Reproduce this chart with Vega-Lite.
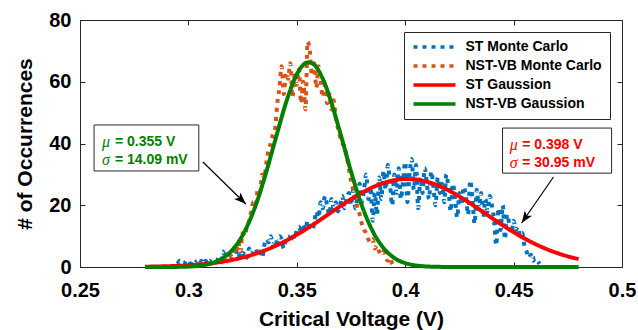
{
  "$schema": "https://vega.github.io/schema/vega-lite/v6.json",
  "width": 542,
  "height": 247,
  "autosize": {"type": "none"},
  "padding": {"left": 80, "top": 20, "right": 16, "bottom": 63},
  "background": "white",
  "config": {
    "view": {"stroke": "#262626", "strokeWidth": 1},
    "axis": {
      "domainColor": "#262626", "tickColor": "#262626", "labelColor": "#000000",
      "labelFont": "Liberation Sans", "labelFontWeight": "bold", "labelFontSize": 20,
      "titleFont": "Liberation Sans", "titleFontWeight": "bold", "titleFontSize": 21, "titleColor": "#000000",
      "grid": false, "tickSize": -5, "labelFlush": false, "labelOverlap": false
    },
    "legend": {
      "title": null, "orient": "none", "legendX": 324, "legendY": 12,
      "strokeColor": "#262626", "fillColor": "white", "padding": 8,
      "labelFont": "Liberation Sans", "labelFontWeight": "bold", "labelFontSize": 14, "labelColor": "#000000",
      "symbolType": "M-6,0H6", "symbolSize": 49, "symbolStrokeWidth": 3.5,
      "symbolOffset": 15.5, "labelOffset": 24, "rowPadding": 5
    }
  },
  "datasets": {
    "curves": [
      {"x":0.295,"y":1,"s":"ST Monte Carlo"},{"x":0.296,"y":2,"s":"ST Monte Carlo"},{"x":0.297,"y":1,"s":"ST Monte Carlo"},{"x":0.298,"y":1,"s":"ST Monte Carlo"},{"x":0.299,"y":2,"s":"ST Monte Carlo"},{"x":0.300,"y":1,"s":"ST Monte Carlo"},{"x":0.301,"y":1,"s":"ST Monte Carlo"},{"x":0.302,"y":2,"s":"ST Monte Carlo"},{"x":0.303,"y":1,"s":"ST Monte Carlo"},{"x":0.304,"y":2,"s":"ST Monte Carlo"},
      {"x":0.305,"y":1,"s":"ST Monte Carlo"},{"x":0.306,"y":2,"s":"ST Monte Carlo"},{"x":0.307,"y":1,"s":"ST Monte Carlo"},{"x":0.308,"y":2,"s":"ST Monte Carlo"},{"x":0.309,"y":1,"s":"ST Monte Carlo"},{"x":0.310,"y":2,"s":"ST Monte Carlo"},{"x":0.311,"y":1,"s":"ST Monte Carlo"},{"x":0.312,"y":2,"s":"ST Monte Carlo"},{"x":0.313,"y":2,"s":"ST Monte Carlo"},{"x":0.314,"y":3,"s":"ST Monte Carlo"},
      {"x":0.315,"y":2,"s":"ST Monte Carlo"},{"x":0.316,"y":5,"s":"ST Monte Carlo"},{"x":0.317,"y":3,"s":"ST Monte Carlo"},{"x":0.318,"y":4,"s":"ST Monte Carlo"},{"x":0.319,"y":5,"s":"ST Monte Carlo"},{"x":0.320,"y":3,"s":"ST Monte Carlo"},{"x":0.321,"y":4,"s":"ST Monte Carlo"},{"x":0.322,"y":5,"s":"ST Monte Carlo"},{"x":0.323,"y":3,"s":"ST Monte Carlo"},{"x":0.324,"y":5,"s":"ST Monte Carlo"},
      {"x":0.325,"y":4,"s":"ST Monte Carlo"},{"x":0.326,"y":5,"s":"ST Monte Carlo"},{"x":0.327,"y":3,"s":"ST Monte Carlo"},{"x":0.328,"y":6,"s":"ST Monte Carlo"},{"x":0.329,"y":4,"s":"ST Monte Carlo"},{"x":0.330,"y":5,"s":"ST Monte Carlo"},{"x":0.331,"y":6,"s":"ST Monte Carlo"},{"x":0.332,"y":4,"s":"ST Monte Carlo"},{"x":0.333,"y":5,"s":"ST Monte Carlo"},{"x":0.334,"y":3,"s":"ST Monte Carlo"},
      {"x":0.335,"y":7,"s":"ST Monte Carlo"},{"x":0.336,"y":9,"s":"ST Monte Carlo"},{"x":0.337,"y":8,"s":"ST Monte Carlo"},{"x":0.338,"y":10,"s":"ST Monte Carlo"},{"x":0.339,"y":7,"s":"ST Monte Carlo"},{"x":0.340,"y":9,"s":"ST Monte Carlo"},{"x":0.341,"y":8,"s":"ST Monte Carlo"},{"x":0.342,"y":10,"s":"ST Monte Carlo"},{"x":0.343,"y":9,"s":"ST Monte Carlo"},{"x":0.344,"y":6,"s":"ST Monte Carlo"},
      {"x":0.345,"y":9,"s":"ST Monte Carlo"},{"x":0.346,"y":10,"s":"ST Monte Carlo"},{"x":0.347,"y":8,"s":"ST Monte Carlo"},{"x":0.348,"y":11,"s":"ST Monte Carlo"},{"x":0.349,"y":9,"s":"ST Monte Carlo"},{"x":0.350,"y":12,"s":"ST Monte Carlo"},{"x":0.351,"y":13,"s":"ST Monte Carlo"},{"x":0.352,"y":11,"s":"ST Monte Carlo"},{"x":0.353,"y":14,"s":"ST Monte Carlo"},{"x":0.354,"y":12,"s":"ST Monte Carlo"},
      {"x":0.355,"y":15,"s":"ST Monte Carlo"},{"x":0.356,"y":13,"s":"ST Monte Carlo"},{"x":0.357,"y":12,"s":"ST Monte Carlo"},{"x":0.358,"y":14,"s":"ST Monte Carlo"},{"x":0.359,"y":18,"s":"ST Monte Carlo"},{"x":0.360,"y":16,"s":"ST Monte Carlo"},{"x":0.361,"y":21,"s":"ST Monte Carlo"},{"x":0.362,"y":19,"s":"ST Monte Carlo"},{"x":0.363,"y":23,"s":"ST Monte Carlo"},{"x":0.364,"y":20,"s":"ST Monte Carlo"},
      {"x":0.365,"y":17,"s":"ST Monte Carlo"},{"x":0.366,"y":22,"s":"ST Monte Carlo"},{"x":0.367,"y":19,"s":"ST Monte Carlo"},{"x":0.368,"y":21,"s":"ST Monte Carlo"},{"x":0.369,"y":18,"s":"ST Monte Carlo"},{"x":0.370,"y":20,"s":"ST Monte Carlo"},{"x":0.371,"y":23,"s":"ST Monte Carlo"},{"x":0.372,"y":19,"s":"ST Monte Carlo"},{"x":0.373,"y":22,"s":"ST Monte Carlo"},{"x":0.374,"y":24,"s":"ST Monte Carlo"},
      {"x":0.375,"y":20,"s":"ST Monte Carlo"},{"x":0.376,"y":25,"s":"ST Monte Carlo"},{"x":0.377,"y":19,"s":"ST Monte Carlo"},{"x":0.378,"y":23,"s":"ST Monte Carlo"},{"x":0.379,"y":27,"s":"ST Monte Carlo"},{"x":0.380,"y":21,"s":"ST Monte Carlo"},{"x":0.381,"y":25,"s":"ST Monte Carlo"},{"x":0.382,"y":30,"s":"ST Monte Carlo"},{"x":0.383,"y":22,"s":"ST Monte Carlo"},{"x":0.384,"y":26,"s":"ST Monte Carlo"},
      {"x":0.385,"y":15,"s":"ST Monte Carlo"},{"x":0.386,"y":24,"s":"ST Monte Carlo"},{"x":0.387,"y":17,"s":"ST Monte Carlo"},{"x":0.388,"y":29,"s":"ST Monte Carlo"},{"x":0.389,"y":22,"s":"ST Monte Carlo"},{"x":0.390,"y":31,"s":"ST Monte Carlo"},{"x":0.391,"y":25,"s":"ST Monte Carlo"},{"x":0.392,"y":33,"s":"ST Monte Carlo"},{"x":0.393,"y":27,"s":"ST Monte Carlo"},{"x":0.394,"y":20,"s":"ST Monte Carlo"},
      {"x":0.395,"y":30,"s":"ST Monte Carlo"},{"x":0.396,"y":24,"s":"ST Monte Carlo"},{"x":0.397,"y":32,"s":"ST Monte Carlo"},{"x":0.398,"y":22,"s":"ST Monte Carlo"},{"x":0.399,"y":28,"s":"ST Monte Carlo"},{"x":0.400,"y":34,"s":"ST Monte Carlo"},{"x":0.401,"y":21,"s":"ST Monte Carlo"},{"x":0.402,"y":30,"s":"ST Monte Carlo"},{"x":0.403,"y":35,"s":"ST Monte Carlo"},{"x":0.404,"y":25,"s":"ST Monte Carlo"},
      {"x":0.405,"y":33,"s":"ST Monte Carlo"},{"x":0.406,"y":19,"s":"ST Monte Carlo"},{"x":0.407,"y":29,"s":"ST Monte Carlo"},{"x":0.408,"y":24,"s":"ST Monte Carlo"},{"x":0.409,"y":32,"s":"ST Monte Carlo"},{"x":0.410,"y":27,"s":"ST Monte Carlo"},{"x":0.411,"y":22,"s":"ST Monte Carlo"},{"x":0.412,"y":31,"s":"ST Monte Carlo"},{"x":0.413,"y":26,"s":"ST Monte Carlo"},{"x":0.414,"y":20,"s":"ST Monte Carlo"},
      {"x":0.415,"y":29,"s":"ST Monte Carlo"},{"x":0.416,"y":24,"s":"ST Monte Carlo"},{"x":0.417,"y":27,"s":"ST Monte Carlo"},{"x":0.418,"y":21,"s":"ST Monte Carlo"},{"x":0.419,"y":30,"s":"ST Monte Carlo"},{"x":0.420,"y":25,"s":"ST Monte Carlo"},{"x":0.421,"y":18,"s":"ST Monte Carlo"},{"x":0.422,"y":27,"s":"ST Monte Carlo"},{"x":0.423,"y":22,"s":"ST Monte Carlo"},{"x":0.424,"y":16,"s":"ST Monte Carlo"},
      {"x":0.425,"y":24,"s":"ST Monte Carlo"},{"x":0.426,"y":20,"s":"ST Monte Carlo"},{"x":0.427,"y":26,"s":"ST Monte Carlo"},{"x":0.428,"y":23,"s":"ST Monte Carlo"},{"x":0.429,"y":17,"s":"ST Monte Carlo"},{"x":0.430,"y":28,"s":"ST Monte Carlo"},{"x":0.431,"y":22,"s":"ST Monte Carlo"},{"x":0.432,"y":14,"s":"ST Monte Carlo"},{"x":0.433,"y":25,"s":"ST Monte Carlo"},{"x":0.434,"y":19,"s":"ST Monte Carlo"},
      {"x":0.435,"y":24,"s":"ST Monte Carlo"},{"x":0.436,"y":16,"s":"ST Monte Carlo"},{"x":0.437,"y":22,"s":"ST Monte Carlo"},{"x":0.438,"y":18,"s":"ST Monte Carlo"},{"x":0.439,"y":23,"s":"ST Monte Carlo"},{"x":0.440,"y":20,"s":"ST Monte Carlo"},{"x":0.441,"y":15,"s":"ST Monte Carlo"},{"x":0.442,"y":7,"s":"ST Monte Carlo"},{"x":0.443,"y":19,"s":"ST Monte Carlo"},{"x":0.444,"y":12,"s":"ST Monte Carlo"},
      {"x":0.445,"y":20,"s":"ST Monte Carlo"},{"x":0.446,"y":9,"s":"ST Monte Carlo"},{"x":0.447,"y":17,"s":"ST Monte Carlo"},{"x":0.448,"y":14,"s":"ST Monte Carlo"},{"x":0.449,"y":11,"s":"ST Monte Carlo"},{"x":0.450,"y":15,"s":"ST Monte Carlo"},{"x":0.451,"y":12,"s":"ST Monte Carlo"},{"x":0.452,"y":13,"s":"ST Monte Carlo"},{"x":0.453,"y":10,"s":"ST Monte Carlo"},{"x":0.454,"y":11,"s":"ST Monte Carlo"},
      {"x":0.455,"y":7,"s":"ST Monte Carlo"},{"x":0.456,"y":5,"s":"ST Monte Carlo"},{"x":0.457,"y":3,"s":"ST Monte Carlo"},{"x":0.458,"y":4,"s":"ST Monte Carlo"},{"x":0.459,"y":2,"s":"ST Monte Carlo"},{"x":0.460,"y":3,"s":"ST Monte Carlo"},{"x":0.461,"y":2,"s":"ST Monte Carlo"},{"x":0.462,"y":1,"s":"ST Monte Carlo"},

      {"x":0.315,"y":1,"s":"NST-VB Monte Carlo"},{"x":0.316,"y":2,"s":"NST-VB Monte Carlo"},{"x":0.317,"y":1,"s":"NST-VB Monte Carlo"},{"x":0.318,"y":3,"s":"NST-VB Monte Carlo"},{"x":0.319,"y":4,"s":"NST-VB Monte Carlo"},{"x":0.320,"y":3,"s":"NST-VB Monte Carlo"},{"x":0.321,"y":6,"s":"NST-VB Monte Carlo"},{"x":0.322,"y":5,"s":"NST-VB Monte Carlo"},{"x":0.323,"y":8,"s":"NST-VB Monte Carlo"},{"x":0.324,"y":5,"s":"NST-VB Monte Carlo"},
      {"x":0.325,"y":11,"s":"NST-VB Monte Carlo"},{"x":0.326,"y":10,"s":"NST-VB Monte Carlo"},{"x":0.327,"y":13,"s":"NST-VB Monte Carlo"},{"x":0.328,"y":15,"s":"NST-VB Monte Carlo"},{"x":0.329,"y":18,"s":"NST-VB Monte Carlo"},{"x":0.330,"y":21,"s":"NST-VB Monte Carlo"},{"x":0.331,"y":20,"s":"NST-VB Monte Carlo"},{"x":0.332,"y":25,"s":"NST-VB Monte Carlo"},{"x":0.333,"y":24,"s":"NST-VB Monte Carlo"},{"x":0.334,"y":30,"s":"NST-VB Monte Carlo"},
      {"x":0.335,"y":29,"s":"NST-VB Monte Carlo"},{"x":0.336,"y":34,"s":"NST-VB Monte Carlo"},{"x":0.337,"y":38,"s":"NST-VB Monte Carlo"},{"x":0.338,"y":40,"s":"NST-VB Monte Carlo"},{"x":0.339,"y":43,"s":"NST-VB Monte Carlo"},{"x":0.340,"y":45,"s":"NST-VB Monte Carlo"},{"x":0.341,"y":53,"s":"NST-VB Monte Carlo"},{"x":0.342,"y":58,"s":"NST-VB Monte Carlo"},{"x":0.343,"y":65,"s":"NST-VB Monte Carlo"},{"x":0.344,"y":56,"s":"NST-VB Monte Carlo"},
      {"x":0.345,"y":63,"s":"NST-VB Monte Carlo"},{"x":0.346,"y":61,"s":"NST-VB Monte Carlo"},{"x":0.347,"y":66,"s":"NST-VB Monte Carlo"},{"x":0.348,"y":55,"s":"NST-VB Monte Carlo"},{"x":0.349,"y":62,"s":"NST-VB Monte Carlo"},{"x":0.350,"y":59,"s":"NST-VB Monte Carlo"},{"x":0.351,"y":64,"s":"NST-VB Monte Carlo"},{"x":0.352,"y":53,"s":"NST-VB Monte Carlo"},{"x":0.353,"y":60,"s":"NST-VB Monte Carlo"},{"x":0.354,"y":51,"s":"NST-VB Monte Carlo"},
      {"x":0.355,"y":73,"s":"NST-VB Monte Carlo"},{"x":0.356,"y":70,"s":"NST-VB Monte Carlo"},{"x":0.357,"y":62,"s":"NST-VB Monte Carlo"},{"x":0.358,"y":66,"s":"NST-VB Monte Carlo"},{"x":0.359,"y":58,"s":"NST-VB Monte Carlo"},{"x":0.360,"y":65,"s":"NST-VB Monte Carlo"},{"x":0.361,"y":60,"s":"NST-VB Monte Carlo"},{"x":0.362,"y":55,"s":"NST-VB Monte Carlo"},{"x":0.363,"y":59,"s":"NST-VB Monte Carlo"},{"x":0.364,"y":53,"s":"NST-VB Monte Carlo"},
      {"x":0.365,"y":56,"s":"NST-VB Monte Carlo"},{"x":0.366,"y":51,"s":"NST-VB Monte Carlo"},{"x":0.367,"y":54,"s":"NST-VB Monte Carlo"},{"x":0.368,"y":48,"s":"NST-VB Monte Carlo"},{"x":0.369,"y":45,"s":"NST-VB Monte Carlo"},{"x":0.370,"y":42,"s":"NST-VB Monte Carlo"},{"x":0.371,"y":40,"s":"NST-VB Monte Carlo"},{"x":0.372,"y":39,"s":"NST-VB Monte Carlo"},{"x":0.373,"y":36,"s":"NST-VB Monte Carlo"},{"x":0.374,"y":32,"s":"NST-VB Monte Carlo"},
      {"x":0.375,"y":28,"s":"NST-VB Monte Carlo"},{"x":0.376,"y":25,"s":"NST-VB Monte Carlo"},{"x":0.377,"y":23,"s":"NST-VB Monte Carlo"},{"x":0.378,"y":19,"s":"NST-VB Monte Carlo"},{"x":0.379,"y":17,"s":"NST-VB Monte Carlo"},{"x":0.380,"y":14,"s":"NST-VB Monte Carlo"},{"x":0.381,"y":12,"s":"NST-VB Monte Carlo"},{"x":0.382,"y":11,"s":"NST-VB Monte Carlo"},{"x":0.383,"y":9,"s":"NST-VB Monte Carlo"},{"x":0.384,"y":8,"s":"NST-VB Monte Carlo"},
      {"x":0.385,"y":9,"s":"NST-VB Monte Carlo"},{"x":0.386,"y":6,"s":"NST-VB Monte Carlo"},{"x":0.387,"y":7,"s":"NST-VB Monte Carlo"},{"x":0.388,"y":5,"s":"NST-VB Monte Carlo"},{"x":0.389,"y":4,"s":"NST-VB Monte Carlo"},{"x":0.390,"y":5,"s":"NST-VB Monte Carlo"},{"x":0.391,"y":3,"s":"NST-VB Monte Carlo"},{"x":0.392,"y":2,"s":"NST-VB Monte Carlo"},{"x":0.393,"y":3,"s":"NST-VB Monte Carlo"},{"x":0.394,"y":1,"s":"NST-VB Monte Carlo"},
      {"x":0.395,"y":0,"s":"NST-VB Monte Carlo"},

      {"x":0.280,"y":0.10,"s":"ST Gaussion"},{"x":0.285,"y":0.16,"s":"ST Gaussion"},{"x":0.290,"y":0.25,"s":"ST Gaussion"},{"x":0.295,"y":0.37,"s":"ST Gaussion"},{"x":0.300,"y":0.56,"s":"ST Gaussion"},{"x":0.305,"y":0.81,"s":"ST Gaussion"},{"x":0.310,"y":1.17,"s":"ST Gaussion"},{"x":0.315,"y":1.64,"s":"ST Gaussion"},{"x":0.320,"y":2.27,"s":"ST Gaussion"},{"x":0.325,"y":3.07,"s":"ST Gaussion"},
      {"x":0.330,"y":4.08,"s":"ST Gaussion"},{"x":0.335,"y":5.31,"s":"ST Gaussion"},{"x":0.340,"y":6.78,"s":"ST Gaussion"},{"x":0.345,"y":8.50,"s":"ST Gaussion"},{"x":0.350,"y":10.45,"s":"ST Gaussion"},{"x":0.355,"y":12.60,"s":"ST Gaussion"},{"x":0.360,"y":14.90,"s":"ST Gaussion"},{"x":0.365,"y":17.29,"s":"ST Gaussion"},{"x":0.370,"y":19.67,"s":"ST Gaussion"},{"x":0.375,"y":21.96,"s":"ST Gaussion"},
      {"x":0.380,"y":24.04,"s":"ST Gaussion"},{"x":0.385,"y":25.82,"s":"ST Gaussion"},{"x":0.390,"y":27.20,"s":"ST Gaussion"},{"x":0.395,"y":28.11,"s":"ST Gaussion"},{"x":0.400,"y":28.49,"s":"ST Gaussion"},{"x":0.405,"y":28.32,"s":"ST Gaussion"},{"x":0.410,"y":27.62,"s":"ST Gaussion"},{"x":0.415,"y":26.43,"s":"ST Gaussion"},{"x":0.420,"y":24.80,"s":"ST Gaussion"},{"x":0.425,"y":22.82,"s":"ST Gaussion"},
      {"x":0.430,"y":20.60,"s":"ST Gaussion"},{"x":0.435,"y":18.25,"s":"ST Gaussion"},{"x":0.440,"y":15.85,"s":"ST Gaussion"},{"x":0.445,"y":13.50,"s":"ST Gaussion"},{"x":0.450,"y":11.29,"s":"ST Gaussion"},{"x":0.455,"y":9.25,"s":"ST Gaussion"},{"x":0.460,"y":7.44,"s":"ST Gaussion"},{"x":0.465,"y":5.87,"s":"ST Gaussion"},{"x":0.470,"y":4.54,"s":"ST Gaussion"},{"x":0.475,"y":3.45,"s":"ST Gaussion"},
      {"x":0.480,"y":2.57,"s":"ST Gaussion"},

      {"x":0.280,"y":0,"s":"NST-VB Gaussion"},{"x":0.285,"y":0,"s":"NST-VB Gaussion"},{"x":0.290,"y":0.01,"s":"NST-VB Gaussion"},{"x":0.295,"y":0.04,"s":"NST-VB Gaussion"},{"x":0.300,"y":0.14,"s":"NST-VB Gaussion"},{"x":0.305,"y":0.40,"s":"NST-VB Gaussion"},{"x":0.310,"y":1.05,"s":"NST-VB Gaussion"},{"x":0.315,"y":2.48,"s":"NST-VB Gaussion"},{"x":0.320,"y":5.31,"s":"NST-VB Gaussion"},{"x":0.325,"y":10.29,"s":"NST-VB Gaussion"},
      {"x":0.330,"y":18.03,"s":"NST-VB Gaussion"},{"x":0.335,"y":28.58,"s":"NST-VB Gaussion"},{"x":0.340,"y":40.97,"s":"NST-VB Gaussion"},{"x":0.345,"y":53.17,"s":"NST-VB Gaussion"},{"x":0.3475,"y":58.3,"s":"NST-VB Gaussion"},{"x":0.350,"y":62.40,"s":"NST-VB Gaussion"},{"x":0.3525,"y":65.1,"s":"NST-VB Gaussion"},{"x":0.355,"y":66.27,"s":"NST-VB Gaussion"},{"x":0.3575,"y":65.8,"s":"NST-VB Gaussion"},{"x":0.360,"y":63.67,"s":"NST-VB Gaussion"},
      {"x":0.3625,"y":60.1,"s":"NST-VB Gaussion"},{"x":0.365,"y":55.33,"s":"NST-VB Gaussion"},{"x":0.370,"y":43.51,"s":"NST-VB Gaussion"},{"x":0.375,"y":30.96,"s":"NST-VB Gaussion"},{"x":0.380,"y":19.92,"s":"NST-VB Gaussion"},{"x":0.385,"y":11.60,"s":"NST-VB Gaussion"},{"x":0.390,"y":6.11,"s":"NST-VB Gaussion"},{"x":0.395,"y":2.91,"s":"NST-VB Gaussion"},{"x":0.400,"y":1.26,"s":"NST-VB Gaussion"},{"x":0.405,"y":0.49,"s":"NST-VB Gaussion"},
      {"x":0.410,"y":0.17,"s":"NST-VB Gaussion"},{"x":0.415,"y":0.06,"s":"NST-VB Gaussion"},{"x":0.420,"y":0.02,"s":"NST-VB Gaussion"},{"x":0.425,"y":0,"s":"NST-VB Gaussion"},{"x":0.430,"y":0,"s":"NST-VB Gaussion"},{"x":0.440,"y":0,"s":"NST-VB Gaussion"},{"x":0.450,"y":0,"s":"NST-VB Gaussion"},{"x":0.460,"y":0,"s":"NST-VB Gaussion"},{"x":0.470,"y":0,"s":"NST-VB Gaussion"},{"x":0.480,"y":0,"s":"NST-VB Gaussion"}
    ],
    "boxes": [
      {"g":"NST","x1":0.2565,"x2":0.3048,"y1":31.1,"y2":46.0},
      {"g":"ST","x1":0.4449,"x2":0.4952,"y1":30.4,"y2":45.0}
    ],
    "ann": [
      {"g":"NST","sym":"μ","val":"= 0.355 V","x":0.2601,"xv":0.2661,"y":40.5},
      {"g":"NST","sym":"σ","val":"= 14.09 mV","x":0.2601,"xv":0.2661,"y":34.7},
      {"g":"ST","sym":"μ","val":"= 0.398 V","x":0.4482,"xv":0.4540,"y":39.5},
      {"g":"ST","sym":"σ","val":"= 30.95 mV","x":0.4482,"xv":0.4540,"y":33.8}
    ],
    "arrows": [
      {"g":"NST","x":0.3067,"y":34.0,"x2":0.3265,"y2":20.4},
      {"g":"ST","x":0.4684,"y":29.15,"x2":0.4537,"y2":14.25}
    ]
  },
  "resolve": {"axis": {"x": "independent", "y": "independent"}},
  "layer": [
    {
      "data": {"name": "curves"},
      "mark": {"type": "line", "strokeWidth": 4, "strokeCap": "butt", "interpolate": "monotone"},
      "encoding": {
        "x": {"field": "x", "type": "quantitative",
              "scale": {"domain": [0.25, 0.5], "nice": false, "zero": false},
              "axis": {"orient": "bottom", "values": [0.25, 0.3, 0.35, 0.4, 0.45, 0.5], "format": "~g",
                       "labelPadding": 18, "title": "Critical Voltage (V)", "titleY": 58, "titleBaseline": "alphabetic"}},
        "y": {"field": "y", "type": "quantitative",
              "scale": {"domain": [0, 80], "nice": false, "zero": false},
              "axis": {"orient": "left", "values": [0, 20, 40, 60, 80], "labelPadding": 14,
                       "title": "# of Occurrences", "titleX": -55, "titleBaseline": "middle"}},
        "color": {"field": "s", "type": "nominal",
                  "scale": {"domain": ["ST Monte Carlo", "NST-VB Monte Carlo", "ST Gaussion", "NST-VB Gaussion"],
                            "range": ["#0072BD", "#D95319", "#FF0000", "#008000"]}},
        "strokeDash": {"field": "s", "type": "nominal",
                       "scale": {"domain": ["ST Monte Carlo", "NST-VB Monte Carlo", "ST Gaussion", "NST-VB Gaussion"],
                                 "range": [[4, 5], [4, 5], [1, 0], [1, 0]]}}
      }
    },
    {
      "data": {"name": "boxes"},
      "mark": {"type": "rect", "fill": "white", "stroke": "#262626", "strokeWidth": 1},
      "encoding": {
        "x": {"field": "x1", "type": "quantitative",
              "axis": {"orient": "top", "values": [0.25, 0.3, 0.35, 0.4, 0.45, 0.5], "labels": false, "title": null, "domain": false}},
        "x2": {"field": "x2"},
        "y": {"field": "y1", "type": "quantitative",
              "axis": {"orient": "right", "values": [0, 20, 40, 60, 80], "labels": false, "title": null, "domain": false}},
        "y2": {"field": "y2"}
      }
    },
    {
      "data": {"name": "ann"},
      "mark": {"type": "text", "font": "Liberation Serif", "fontStyle": "italic", "fontSize": 16, "align": "left", "baseline": "middle"},
      "encoding": {
        "x": {"field": "x", "type": "quantitative", "axis": null},
        "y": {"field": "y", "type": "quantitative", "axis": null},
        "text": {"field": "sym"},
        "color": {"condition": {"test": "datum.g === 'ST'", "value": "#FF0000"}, "value": "#008000"}
      }
    },
    {
      "data": {"name": "ann"},
      "mark": {"type": "text", "font": "Liberation Sans", "fontWeight": "bold", "fontSize": 14, "align": "left", "baseline": "middle"},
      "encoding": {
        "x": {"field": "xv", "type": "quantitative", "axis": null},
        "y": {"field": "y", "type": "quantitative", "axis": null},
        "text": {"field": "val"},
        "color": {"condition": {"test": "datum.g === 'ST'", "value": "#FF0000"}, "value": "#008000"}
      }
    },
    {
      "data": {"name": "arrows"},
      "mark": {"type": "rule", "color": "#000000", "strokeWidth": 1.2},
      "encoding": {
        "x": {"field": "x", "type": "quantitative", "axis": null},
        "y": {"field": "y", "type": "quantitative", "axis": null},
        "x2": {"field": "x2"},
        "y2": {"field": "y2"}
      }
    },
    {
      "data": {"name": "arrows"},
      "mark": {"type": "point", "shape": "M0,0L-2,-0.75L-1.5,0L-2,0.75Z", "size": 144, "filled": true, "color": "#000000", "opacity": 1},
      "encoding": {
        "x": {"field": "x2", "type": "quantitative", "axis": null},
        "y": {"field": "y2", "type": "quantitative", "axis": null},
        "angle": {"condition": {"test": "datum.g === 'ST'", "value": 125}, "value": 44}
      }
    }
  ]
}
